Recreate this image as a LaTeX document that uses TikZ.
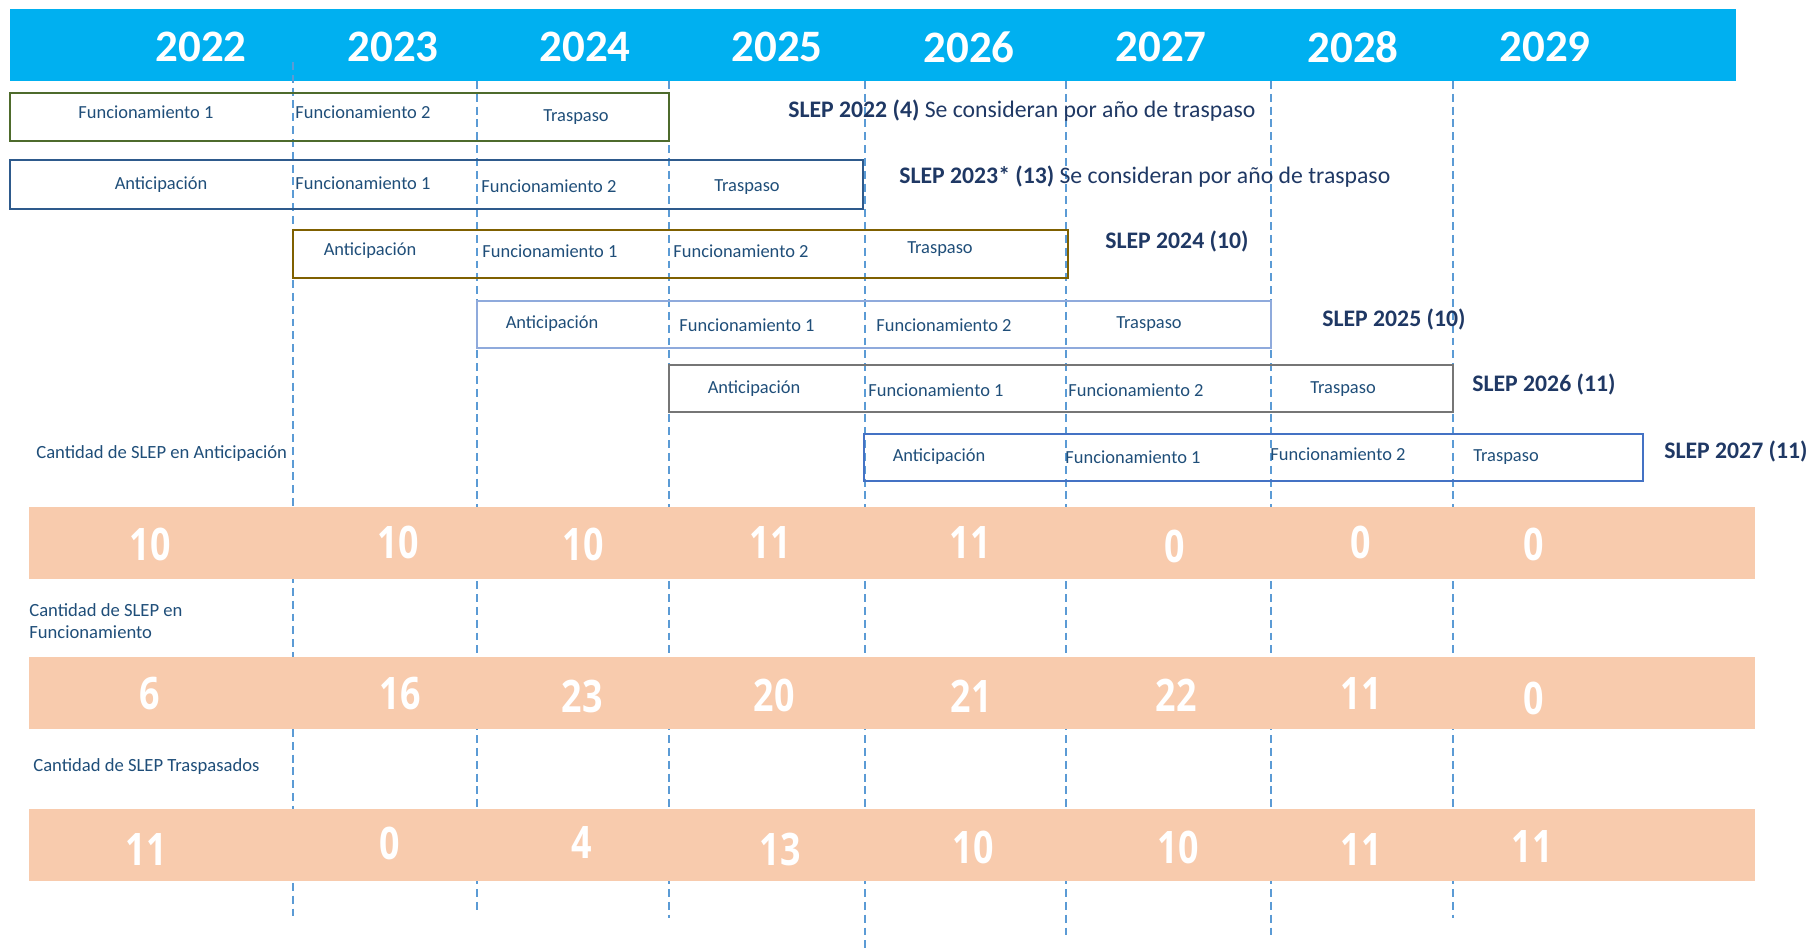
\documentclass[tikz,border=0pt]{standalone}
\usepackage{fontspec}
\setmainfont{Carlito}
\newfontfamily\numfont[FakeStretch=0.8]{Open Sans}
\usetikzlibrary{positioning}

\definecolor{headblue}{HTML}{00B0F0}
\definecolor{bandorange}{HTML}{F8CBAD}
\definecolor{gridblue}{HTML}{5B9BD5}
\definecolor{phasetext}{HTML}{1F4E79}
\definecolor{sleptext}{HTML}{1F3864}
\definecolor{boxgreen}{HTML}{4E6B2C}
\definecolor{boxnavy}{HTML}{2E5A8C}
\definecolor{boxgold}{HTML}{7F6000}
\definecolor{boxlight}{HTML}{8FAADC}
\definecolor{boxgray}{HTML}{767676}
\definecolor{boxmid}{HTML}{4472C4}

\tikzset{
    yearlbl/.style={text=white, inner sep=0pt, font=\fontsize{25.6}{30}\selectfont\bfseries},
    phase/.style={text=phasetext, inner sep=0pt, anchor=base, font=\fontsize{10.5}{12}\selectfont},
    sleplbl/.style={text=sleptext, inner sep=0pt, anchor=base west, font=\fontsize{13.5}{16}\selectfont},
    countlbl/.style={text=phasetext, inner sep=0pt, align=left, font=\fontsize{10.6}{12.5}\selectfont},
    countnum/.style={text=white, inner sep=0pt, font=\numfont\bfseries\fontsize{25.5}{30}\selectfont},
    rowbox/.style={draw=#1, line width=1.2pt},
    gridline/.style={gridblue, line width=1pt, dash pattern=on 4.5pt off 2.8pt},
    band/.style={fill=bandorange}
}

\begin{document}
\begin{tikzpicture}[x=0.02cm, y=-0.02cm]
        \useasboundingbox (0,0) rectangle (1811,949);

        \fill[headblue] (10,9) rectangle (1736,81);
        \foreach \yr [count=\i from 0] in {2022,...,2029}
            \node[yearlbl] (year\yr) at (201+192*\i, 47) {\yr};

        \draw[gridline] (293,62) -- (293,918);
        \foreach \gx/\gy in {477/913, 669/918, 865/949, 1066/938, 1271/938, 1453/918}
            \draw[gridline] (\gx,81) -- (\gx,\gy);

        \draw[rowbox=boxgreen] (10,93) rectangle (669,141);
        \node[phase] (fa1) at (146,119) {Funcionamiento 1};
        \node[phase] (fa2) at (363,119) {Funcionamiento 2};
        \node[phase] (ta) at (576,122) {Traspaso};
        \node[sleplbl] (slepa) at (788,118) {\textbf{SLEP 2022 (4)} Se consideran por año de traspaso};

        \draw[rowbox=boxnavy] (10,160) rectangle (863,209);
        \node[phase] (ab) at (161,190) {Anticipación};
        \node[phase] (fb1) at (363,190) {Funcionamiento 1};
        \node[phase] (fb2) at (549,193) {Funcionamiento 2};
        \node[phase] (tb) at (747,192) {Traspaso};
        \node[sleplbl] (slepb) at (899,184) {\textbf{SLEP 2023* (13)} Se consideran por año de traspaso};

        \draw[rowbox=boxgold] (293,230) rectangle (1068,278);
        \node[phase] (ac) at (370,256) {Anticipación};
        \node[phase] (fc1) at (550,258) {Funcionamiento 1};
        \node[phase] (fc2) at (741,258) {Funcionamiento 2};
        \node[phase] (tc) at (940,254) {Traspaso};
        \node[sleplbl] (slepc) at (1105,249) {\textbf{SLEP 2024 (10)}};

        \draw[rowbox=boxlight] (477,301) rectangle (1271,348);
        \node[phase] (ad) at (552,329) {Anticipación};
        \node[phase] (fd1) at (747,332) {Funcionamiento 1};
        \node[phase] (fd2) at (944,332) {Funcionamiento 2};
        \node[phase] (td) at (1149,329) {Traspaso};
        \node[sleplbl] (slepd) at (1322,327) {\textbf{SLEP 2025 (10)}};

        \draw[rowbox=boxgray] (669,365) rectangle (1453,412);
        \node[phase] (ae) at (754,393) {Anticipación};
        \node[phase] (fe1) at (936,396) {Funcionamiento 1};
        \node[phase] (fe2) at (1136,397) {Funcionamiento 2};
        \node[phase] (te) at (1343,393) {Traspaso};
        \node[sleplbl] (slepe) at (1472,391) {\textbf{SLEP 2026 (11)}};

        \draw[rowbox=boxmid] (864,434) rectangle (1643,481);
        \node[phase] (af) at (939,461) {Anticipación};
        \node[phase] (ff1) at (1133,463) {Funcionamiento 1};
        \node[phase] (ff2) at (1338,460) {Funcionamiento 2};
        \node[phase] (tf) at (1506,461) {Traspaso};
        \node[sleplbl] (slepf) at (1664,458) {\textbf{SLEP 2027 (11)}};

        \node[countlbl, anchor=base west] (cantant) at (36,458) {Cantidad de SLEP en Anticipación};
        \fill[band] (29,507) rectangle (1755,579);
        \foreach \nx/\ny/\nv [count=\k] in {150/544/10, 398/542/10, 583/544/10, 770/543/11, 970/543/11, 1175/546/0, 1361/542/0, 1534/544/0}
            \node[countnum] (anum\k) at (\nx,\ny) {\nv};

        \node[countlbl, anchor=north west] (cantfun) at (29,603) {Cantidad de SLEP en\\Funcionamiento};
        \fill[band] (29,657) rectangle (1755,729);
        \foreach \nx/\ny/\nv [count=\k] in {150/694/6, 400/694/16, 582/696/23, 774/695/20, 971/696/21, 1176/695/22, 1361/694/11, 1534/698/0}
            \node[countnum] (fnum\k) at (\nx,\ny) {\nv};

        \node[countlbl, anchor=base west] (canttra) at (33,771) {Cantidad de SLEP Traspasados};
        \fill[band] (29,809) rectangle (1755,881);
        \foreach \nx/\ny/\nv [count=\k] in {146/849/11, 390/843/0, 582/843/4, 780/849/13, 973/847/10, 1178/847/10, 1361/849/11, 1532/847/11}
            \node[countnum] (tnum\k) at (\nx,\ny) {\nv};
\end{tikzpicture}
\end{document}
